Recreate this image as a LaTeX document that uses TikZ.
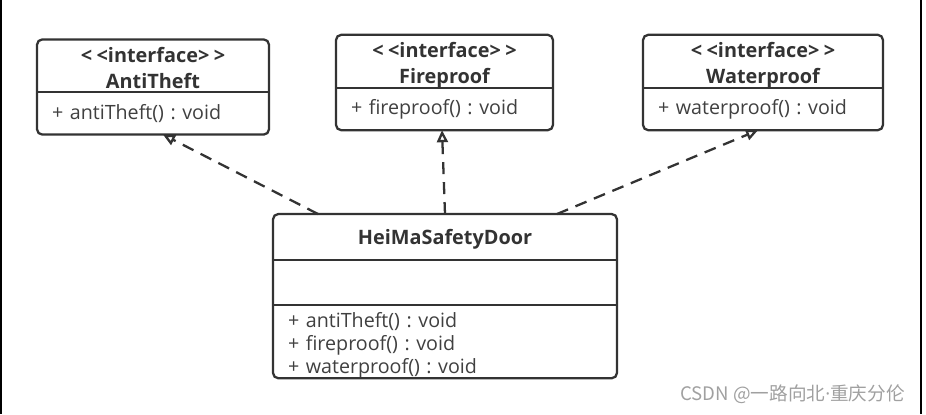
\documentclass[tikz,border=0pt]{standalone}
\usepackage{fontspec}
\setmainfont{Open Sans}
\newfontfamily\cjk{Noto Sans CJK SC}
\usepackage{tikz}
\usetikzlibrary{arrows.meta}
\usetikzlibrary{positioning}
\definecolor{umlgray}{HTML}{333333}
\definecolor{txtgray}{HTML}{404040}
\definecolor{markgray}{HTML}{A0A0A0}
\tikzstyle{head}  = [
    inner sep=0pt,
    outer sep=0pt,
    align=center,
    text=umlgray,
    font=\bfseries\fontsize{11.3}{14.7}\selectfont
]
\tikzstyle{body}  = [
    inner xsep=0.3cm,
    inner ysep=0pt,
    outer sep=0pt,
    align=left,
    text=txtgray,
    font=\frenchspacing\fontsize{11.2}{13}\selectfont
]
\tikzstyle{classbox} = [
    draw=umlgray,
    line width=1.3pt,
    rounded corners=3pt
]
\tikzstyle{divider} = [
    draw=umlgray,
    line width=1.1pt
]
\tikzstyle{realize} = [
    draw=umlgray,
    line width=1.3pt,
    dash pattern=on 0.24cm off 0.16cm,
    -{Triangle[open, length=0.24cm, width=0.22cm]}
]
\newcommand{\stereo}{\rule{0pt}{13pt}<\kern2.5pt<interface>\kern2.5pt>}
\newcommand{\iname}[1]{#1\rule[-2pt]{0pt}{2pt}}

\begin{document}
\begin{tikzpicture}[x = 0.02cm, y = -0.02cm]
\useasboundingbox (0,0) rectangle (926,414);
\draw[line width=0.8pt] (1,0) -- (1,414);
\draw[line width=0.8pt] (921,0) -- (921,414);

\node[head, minimum width=4.64cm, minimum height=0.98cm] (antiHead)  at (153,65.5)  {\stereo\\\iname{AntiTheft}};
\node[body, text width=4.04cm, minimum height=0.86cm, below=0pt of antiHead] (antiBody) {+ antiTheft() : void};
\node[head, minimum width=4.34cm, minimum height=0.98cm] (fireHead)  at (444.5,61.5) {\stereo\\\iname{Fireproof}};
\node[body, text width=3.74cm, minimum height=0.84cm, below=0pt of fireHead] (fireBody) {+ fireproof() : void};
\node[head, minimum width=4.80cm, minimum height=0.98cm] (waterHead) at (763,61.5)  {\stereo\\\iname{Waterproof}};
\node[body, text width=4.20cm, minimum height=0.84cm, below=0pt of waterHead] (waterBody) {+ waterproof() : void};

\node[head, minimum width=6.88cm, minimum height=0.92cm] (doorHead) at (445,237) {\rule{0pt}{11pt}HeiMaSafetyDoor};
\node[body, text width=6.28cm, minimum height=0.90cm, below=0pt of doorHead] (doorAttr) {};
\node[body, text width=6.28cm, minimum height=1.42cm, below=0pt of doorAttr] (doorOps)
    {\rule{0pt}{13pt}+ antiTheft() : void\\+ fireproof() : void\\+ waterproof() : void};

\foreach \h/\b in {antiHead/antiBody, fireHead/fireBody, waterHead/waterBody} {
    \draw[classbox] (\h.north west) rectangle (\b.south east);
    \draw[divider]  (\h.south west) -- (\h.south east);
}
\draw[classbox] (doorHead.north west) rectangle (doorOps.south east);
\draw[divider]  (doorHead.south west) -- (doorHead.south east);
\draw[divider]  (doorAttr.south west) -- (doorAttr.south east);

\draw[realize] ([xshift=-2.54cm]doorHead.north) to ([xshift=0.2cm]antiBody.south);
\draw[realize] (doorHead.north) to ([xshift=-0.05cm]fireBody.south);
\draw[realize] ([xshift=2.24cm]doorHead.north) to ([xshift=-0.1cm]waterBody.south);

\node[anchor=east, text=markgray, font=\cjk\fontsize{10.6}{13}\selectfont] (mark) at (911,394) {CSDN @一路向北{\rmfamily ·}重庆分伦};

\end{tikzpicture}
\end{document}
